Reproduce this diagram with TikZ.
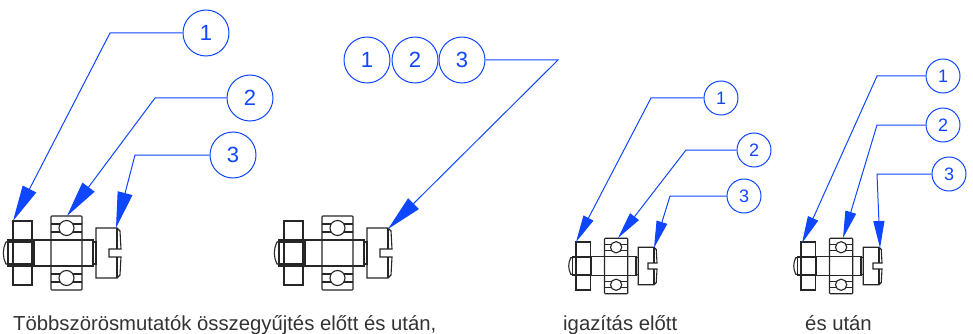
\documentclass[tikz,border=0pt]{standalone}
\usepackage{fontspec}
\setmainfont{Liberation Sans}
\usetikzlibrary{arrows.meta}
\definecolor{leader}{RGB}{15,70,255}
\tikzset{
  part/.style={draw=black!85,line width=1.1pt},
  bubble/.style={draw=leader,circle,inner sep=0pt,line width=1pt,text=leader,minimum size=46pt,font=\fontsize{22}{22}\selectfont},
  smallbubble/.style={bubble,minimum size=34pt,font=\fontsize{18}{18}\selectfont},
  arrowlead/.style={draw=leader,line width=1pt,-{Triangle[length=36pt,width=15pt,fill=leader]}},
  smallarrowlead/.style={draw=leader,line width=1pt,-{Triangle[length=27pt,width=11pt,fill=leader]}},
  caption/.style={anchor=base west,inner sep=0pt,text=black!80,font=\fontsize{20.3}{24}\selectfont},
  assembly/.pic={
    % nut and bolt end
    \draw[part] (0,-32) rectangle (19,32);
    \draw[part,fill=white] (-5,-13) rectangle (21,13);
    \draw[part] (-5,-11) -- (21,-11) (-5,11) -- (21,11);
    \draw[part] (0,-13) -- (0,13) (19,-13) -- (19,13);
    \draw[part] (-5,-11) -- (-7,-11) to[bend right=25] (-7,11) -- (-5,11);
    % shaft
    \draw[part] (21,-13) rectangle (80,13);
    \draw[part] (80,-11) rectangle (83,11);
    % bearing
    \draw[part,fill=white,rounded corners=0.8pt] (38,-37) rectangle (69,37);
    \draw[part] (38,-13) -- (69,-13) (38,13) -- (69,13);
    \draw[part] (38,-29) -- (69,-29) (38,-21) -- (69,-21) (38,29) -- (69,29) (38,21) -- (69,21);
    \draw[part,fill=white] (53.5,-25) circle (7.5);
    \draw[part,fill=white] (53.5,25) circle (7.5);
    % screw head with slot
    \draw[part] (83,-25) -- (104,-25) -- (107,-22) -- (108,-4) -- (96,-4) -- (96,4) -- (108,4) -- (107,22) -- (104,25) -- (83,25) -- cycle;
    \draw[part] (104,-25) -- (104,-4) (104,4) -- (104,25);
  }
}
\begin{document}
\begin{tikzpicture}[x=1pt,y=-1pt]
\useasboundingbox (0,0) rectangle (973,334);
% first group
\pic at (13,253) {assembly};
\node[bubble] (a1) at (206,33) {1};
\node[bubble] (a2) at (250,98) {2};
\node[bubble] (a3) at (233,155) {3};
\coordinate (ak1) at (110,33);
\coordinate (ak2) at (155,98);
\coordinate (ak3) at (135,155);
\coordinate (at1) at (13,221);
\coordinate (at2) at (67,216);
\coordinate (at3) at (116,228);
\path[arrowlead] (a1.west) -- (ak1) -- (at1);
\path[arrowlead] (a2.west) -- (ak2) -- (at2);
\path[arrowlead] (a3.west) -- (ak3) -- (at3);
% second group
\pic at (284,253) {assembly};
\node[bubble] (b1) at (367,60) {1};
\node[bubble] (b2) at (415,60) {2};
\node[bubble] (b3) at (462,60) {3};
\coordinate (bk3) at (558,60);
\coordinate (bt3) at (388,229);
\path[arrowlead] (b3.east) -- (bk3) -- (bt3);
% before alignment
\pic[scale=0.75] at (576,266) {assembly};
\node[smallbubble] (c1) at (721,98) {1};
\node[smallbubble] (c2) at (754,150) {2};
\node[smallbubble] (c3) at (744,196) {3};
\coordinate (ck1) at (651,98);
\coordinate (ck2) at (686,150);
\coordinate (ck3) at (670,196);
\coordinate (ct1) at (576,242);
\coordinate (ct2) at (618,238);
\coordinate (ct3) at (654,248);
\path[smallarrowlead] (c1.west) -- (ck1) -- (ct1);
\path[smallarrowlead] (c2.west) -- (ck2) -- (ct2);
\path[smallarrowlead] (c3.west) -- (ck3) -- (ct3);
% after alignment
\pic[scale=0.75] at (801,266) {assembly};
\node[smallbubble] (d1) at (943,76) {1};
\node[smallbubble] (d2) at (943,125) {2};
\node[smallbubble] (d3) at (949,174) {3};
\coordinate (dk1) at (877,76);
\coordinate (dk2) at (877,125);
\coordinate (dk3) at (877,174);
\coordinate (dt1) at (802,243);
\coordinate (dt2) at (843,238);
\coordinate (dt3) at (880,248);
\path[smallarrowlead] (d1.west) -- (dk1) -- (dt1);
\path[smallarrowlead] (d2.west) -- (dk2) -- (dt2);
\path[smallarrowlead] (d3.west) -- (dk3) -- (dt3);
% captions
\node[caption] (t1) at (13,330) {Többszörösmutatók összegyűjtés előtt és után,};
\node[caption] (t2) at (563,330) {igazítás előtt};
\node[caption] (t3) at (805,330) {és után};
\end{tikzpicture}
\end{document}
